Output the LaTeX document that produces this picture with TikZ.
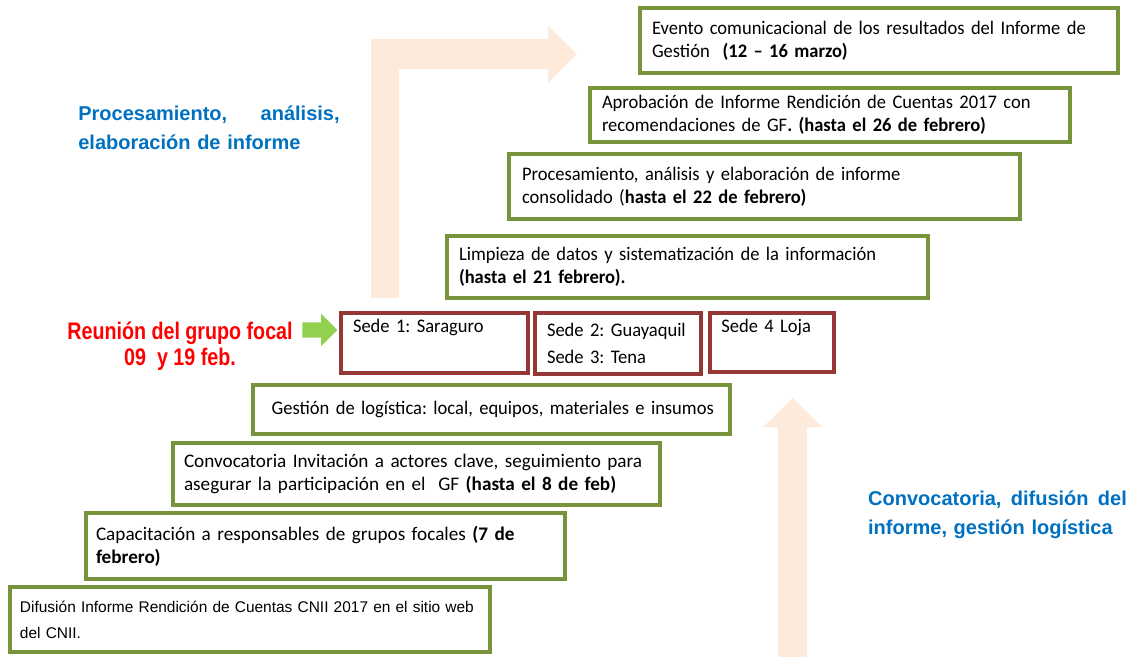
\documentclass[tikz,border=0pt]{standalone}
\usepackage{fontspec}
\setmainfont{Carlito}
\newfontfamily\condfont[FakeStretch=0.965]{Carlito}
\newfontfamily\arialfont{Liberation Sans}
\newfontfamily\narrowfont[FakeStretch=0.82]{Liberation Sans}
\usepackage{tikz}
\usetikzlibrary{shapes.arrows}
\frenchspacing
\definecolor{boxgreen}{HTML}{77933C}
\definecolor{boxred}{HTML}{953735}
\definecolor{peach}{HTML}{FDEADA}
\definecolor{arrowgreen}{HTML}{92D050}
\definecolor{titleblue}{HTML}{0070C0}
\tikzstyle{stepbox} = [rectangle, draw=boxgreen, line width=2.3pt, fill=white, align=left, font=\fontsize{14.4}{17.5}\selectfont]
\tikzstyle{narrowstep} = [stepbox, font=\condfont\fontsize{14.4}{17.5}\selectfont]
\tikzstyle{sedebox} = [rectangle, draw=boxred, line width=2.3pt, fill=white, align=left, inner xsep=7pt, font=\condfont\fontsize{14.4}{17.5}\selectfont]
\tikzstyle{phase} = [text width=196pt, inner sep=0pt, align=left, text=titleblue, font=\arialfont\bfseries\fontsize{15}{21.75}\selectfont]
\tikzstyle{meeting} = [align=center, inner sep=0pt, text=red, font=\narrowfont\bfseries\fontsize{18}{19.5}\selectfont]

\begin{document}
\begin{tikzpicture}[x=0.75pt, y=-0.75pt]
    \useasboundingbox (0,0) rectangle (1136,657);

    % Background arrows
    \fill[peach] (371,298) -- (371,39) -- (548,39) -- (548,26) -- (577,54) -- (548,83) -- (548,69) -- (399,69) -- (399,298) -- cycle;
    \fill[peach] (778,657) -- (778,427) -- (763,427) -- (793,398) -- (822,427) -- (807,427) -- (807,657) -- cycle;

    % Phase titles
    \node (procphase) [phase] at (209,128) {Procesamiento,\hfill análisis,\\elaboración de informe};
    \node (convphase) [phase, text width=194pt] at (997.5,515) {Convocatoria,\hfill difusión\hfill del\\informe, gestión logística};

    % Steps (bottom to top)
    \node (difusion) [stepbox, minimum width=360pt, minimum height=48.75pt, text width=350pt, inner xsep=5pt, font=\arialfont\fontsize{11.6}{19.5}\selectfont] at (250,619.5) {\hspace*{2.5pt}Difusión Informe Rendición de Cuentas CNII 2017 en el sitio web\\\hspace*{2.5pt}del CNII.};
    \node (capacitacion) [stepbox, minimum width=359.25pt, minimum height=49.5pt, text width=344.25pt, inner xsep=7.5pt] at (325.5,546) {Capacitación a responsables de grupos focales \textbf{(7 de}\\\textbf{febrero)}};
    \node (convocatoria) [stepbox, minimum width=365.25pt, minimum height=46.5pt, text width=348.75pt, inner xsep=8.25pt] at (416.5,474) {Convocatoria Invitación a actores clave, seguimiento para\\asegurar la participación en el\ \ GF \textbf{(hasta el 8 de feb)}};
    \node (logistica) [narrowstep, minimum width=357.75pt, minimum height=36.75pt, text width=341.75pt, inner xsep=8pt] at (491.5,409.5) {\hspace*{6pt}Gestión de logística: local, equipos, materiales e insumos};

    % Focus group meetings
    \node (reunion) [meeting] at (180,346) {Reunión del grupo focal\\09\ \ y 19 feb.};
    \node (flecha) [single arrow, fill=arrowgreen, inner xsep=0pt, inner ysep=5.6pt, single arrow head extend=6.4pt, minimum height=26.25pt] at (316,330) {};
    \node (sede1) [sedebox, minimum width=140.25pt, minimum height=45pt, text width=126.25pt] at (434.5,343) {\hspace*{2pt}Sede 1: Saraguro\\[3pt]\strut};
    \node (sede23) [sedebox, minimum width=124.5pt, minimum height=45.75pt, text width=110.5pt] at (618,343.5) {\hspace*{2pt}Sede 2: Guayaquil\\[3pt]\hspace*{2pt}Sede 3: Tena};
    \node (sede4) [sedebox, minimum width=93pt, minimum height=44.25pt, text width=79pt] at (772,342.5) {\hspace*{1.5pt}Sede 4 Loja\\[3pt]\strut};

    \node (limpieza) [narrowstep, minimum width=360.75pt, minimum height=46.5pt, text width=342.75pt, inner xsep=9pt] at (687.5,267) {Limpieza de datos y sistematización de la información\\\textbf{(hasta el 21 febrero).}};
    \node (procesamiento) [narrowstep, minimum width=383.25pt, minimum height=48.75pt, text width=363.75pt, inner xsep=9.75pt] at (764.5,186.5) {Procesamiento, análisis y elaboración de informe\\consolidado (\textbf{hasta el 22 de febrero)}};
    \node (aprobacion) [narrowstep, minimum width=360pt, minimum height=40.5pt, text width=342pt, inner xsep=9pt] at (830,115) {Aprobación de Informe Rendición de Cuentas 2017 con\\recomendaciones de GF\textbf{. (hasta el 26 de febrero)}};
    \node (evento) [narrowstep, minimum width=358.5pt, minimum height=48.75pt, text width=340.5pt, inner xsep=9pt] at (879,40.5) {Evento comunicacional de los resultados del Informe de\\Gestión\ \ \textbf{(12 – 16 marzo)}};
\end{tikzpicture}
\end{document}
